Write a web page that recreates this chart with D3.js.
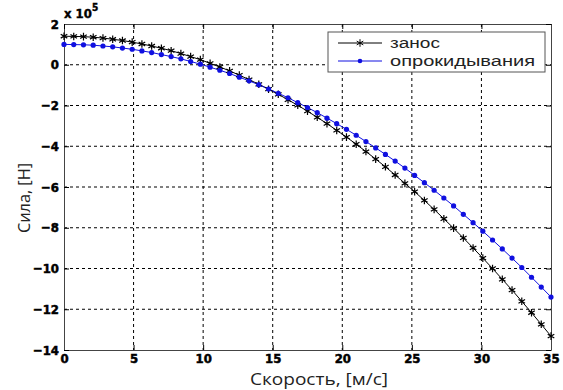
<!DOCTYPE html>
<html>
<head>
<meta charset="utf-8">
<script src="https://cdn.jsdelivr.net/npm/d3@7"></script>
<style>
  body { margin: 0; background: #fff; }
</style>
</head>
<body>
<div id="chart"></div>
<script>
const width = 563;
const height = 390;
const MARGIN = { top: 24, right: 12, bottom: 40, left: 64 };

// speed, m/s (step 0.7)
const speed = d3.range(51).map((i) => +(i * 0.7).toFixed(1));
// force, x 10^5 N
const skid = [
  1.40, 1.39, 1.38, 1.35, 1.31, 1.25, 1.19, 1.11, 1.02, 0.92,
  0.81, 0.69, 0.55, 0.40, 0.25, 0.07, -0.11, -0.30, -0.51, -0.73,
  -0.96, -1.20, -1.45, -1.72, -1.99, -2.28, -2.58, -2.89, -3.22, -3.55,
  -3.90, -4.26, -4.63, -5.01, -5.41, -5.82, -6.23, -6.66, -7.10, -7.56,
  -8.02, -8.50, -8.99, -9.49, -10.00, -10.53, -11.06, -11.61, -12.17, -12.74,
  -13.32
];
const rollover = [
  1.00, 0.99, 0.98, 0.96, 0.92, 0.88, 0.82, 0.76, 0.68, 0.60,
  0.50, 0.40, 0.29, 0.16, 0.03, -0.12, -0.27, -0.43, -0.61, -0.79,
  -0.98, -1.19, -1.40, -1.62, -1.86, -2.10, -2.35, -2.62, -2.89, -3.17,
  -3.46, -3.77, -4.08, -4.40, -4.73, -5.07, -5.43, -5.79, -6.16, -6.54,
  -6.93, -7.34, -7.75, -8.17, -8.60, -9.04, -9.49, -9.95, -10.43, -10.91,
  -11.40
];
const seriesNames = ['занос', 'опрокидывания'];
const xTicks = [0, 5, 10, 15, 20, 25, 30, 35];
const yTicks = [-14, -12, -10, -8, -6, -4, -2, 0, 2];

const w = width - MARGIN.left - MARGIN.right;
const h = height - MARGIN.top - MARGIN.bottom;

const svg = d3.select('#chart').append('svg')
  .attr('width', width)
  .attr('height', height);

const g = svg.append('g')
  .attr('transform', 'translate(' + MARGIN.left + ',' + MARGIN.top + ')');

const x = d3.scaleLinear().domain([0, 35]).range([0, w]);
const y = d3.scaleLinear().domain([-14, 2]).range([h, 0]);

// grid
g.selectAll('line.gx')
  .data(xTicks.slice(1, -1))
  .join('line')
  .attr('x1', (d) => x(d)).attr('x2', (d) => x(d))
  .attr('y1', 0).attr('y2', h)
  .attr('stroke', '#000').attr('stroke-dasharray', '3,3');
g.selectAll('line.gy')
  .data(yTicks.slice(1, -1))
  .join('line')
  .attr('y1', (d) => y(d)).attr('y2', (d) => y(d))
  .attr('x1', 0).attr('x2', w)
  .attr('stroke', '#000').attr('stroke-dasharray', '3,3');

function styleAxis(a) {
  a.select('.domain').attr('stroke', '#444');
  a.selectAll('.tick text')
    .style('font-family', 'DejaVu Sans Condensed, DejaVu Sans, sans-serif')
    .style('font-weight', 'bold')
    .style('font-size', '13px')
    .attr('fill', '#000')
    .attr('stroke', '#000')
    .attr('stroke-width', 0.5);
}

// axes (ticks inward, box on all sides)
g.append('g')
  .attr('transform', 'translate(0,' + h + ')')
  .call(d3.axisBottom(x).tickValues(xTicks).tickSizeInner(-5).tickSizeOuter(0).tickPadding(4))
  .call(styleAxis);
g.append('g')
  .call(d3.axisLeft(y).tickValues(yTicks).tickSizeInner(-5).tickSizeOuter(0).tickPadding(5))
  .call(styleAxis);
g.append('g')
  .call(d3.axisTop(x).tickValues(xTicks).tickSizeInner(-5).tickSizeOuter(0).tickFormat(''))
  .call(styleAxis);
g.append('g')
  .attr('transform', 'translate(' + w + ',0)')
  .call(d3.axisRight(y).tickValues(yTicks).tickSizeInner(-5).tickSizeOuter(0).tickFormat(''))
  .call(styleAxis);

// exponent label
const expo = svg.append('text')
  .attr('x', 64).attr('y', 18)
  .style('font-family', 'DejaVu Sans Condensed, DejaVu Sans, sans-serif')
  .style('font-weight', 'bold').style('font-size', '13px')
  .attr('stroke', '#000').attr('stroke-width', 0.4);
expo.append('tspan').text('x 10');
expo.append('tspan').attr('dy', -7).style('font-size', '10px').text('5');

// lines
const line = d3.line().x((d) => x(d[0])).y((d) => y(d[1]));
const skidPts = speed.map((v, i) => [v, skid[i]]);
const rollPts = speed.map((v, i) => [v, rollover[i]]);

g.append('path').datum(skidPts).attr('d', line)
  .attr('fill', 'none').attr('stroke', '#000').attr('stroke-width', 1);
g.append('path').datum(rollPts).attr('d', line)
  .attr('fill', 'none').attr('stroke', '#1010e0').attr('stroke-width', 1);

const star = d3.symbol().type(d3.symbolAsterisk).size(40);
g.selectAll('path.star')
  .data(skidPts)
  .join('path')
  .attr('d', star)
  .attr('transform', (d) => 'translate(' + x(d[0]) + ',' + y(d[1]) + ')')
  .attr('fill', 'none').attr('stroke', '#000').attr('stroke-width', 1.2);
g.selectAll('circle.dot')
  .data(rollPts)
  .join('circle')
  .attr('cx', (d) => x(d[0])).attr('cy', (d) => y(d[1]))
  .attr('r', 2.6).attr('fill', '#1010e0');

// legend
const legendWidths = [50, 145];
const lg = svg.append('g').attr('transform', 'translate(328,32)');
lg.append('rect').attr('width', 217).attr('height', 40)
  .attr('fill', '#fff').attr('stroke', '#555');
seriesNames.forEach((name, i) => {
  const ly = 11 + i * 18;
  lg.append('line').attr('x1', 10).attr('x2', 54).attr('y1', ly).attr('y2', ly)
    .attr('stroke', i === 0 ? '#000' : '#1010e0');
  if (i === 0) {
    lg.append('path').attr('d', star).attr('transform', 'translate(32,' + ly + ')')
      .attr('fill', 'none').attr('stroke', '#000');
  } else {
    lg.append('circle').attr('cx', 32).attr('cy', ly).attr('r', 2.3).attr('fill', '#1010e0');
  }
  lg.append('text').attr('x', 62).attr('y', ly + 5)
    .style('font-family', 'Liberation Sans, Arial, sans-serif').style('font-size', '14px')
    .attr('textLength', legendWidths[i]).attr('lengthAdjust', 'spacingAndGlyphs')
    .attr('fill', '#222').text(name);
});

// axis titles
svg.append('text')
  .attr('x', 250).attr('y', 385)
  .attr('textLength', 138).attr('lengthAdjust', 'spacingAndGlyphs')
  .style('font-family', 'Open Sans, sans-serif').style('font-size', '16px')
  .attr('fill', '#222').text('Скорость, [м/с]');
svg.append('text')
  .attr('transform', 'translate(30,233) rotate(-90)')
  .attr('textLength', 70).attr('lengthAdjust', 'spacingAndGlyphs')
  .style('font-family', 'Open Sans, sans-serif').style('font-size', '16px')
  .attr('fill', '#222').text('Сила, [H]');
</script>
</body>
</html>
